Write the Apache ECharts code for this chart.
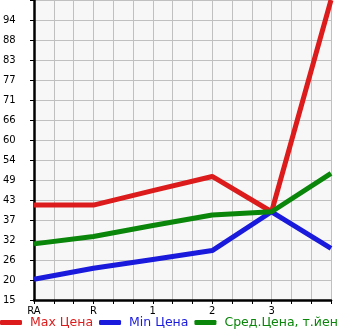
<!DOCTYPE html>
<html><head><meta charset="utf-8">
<script src="https://cdn.jsdelivr.net/npm/echarts@6/dist/echarts.min.js"></script>
<style>html,body{margin:0;padding:0;background:#fff}#c{width:345px;height:335px}</style>
</head><body><div id="c"></div>
<script>
const categories = ['RA', 'R', '1', '2', '3', ''];
const tickLabels = ['15','20','26','32','37','43','49','54','60','66','71','77','83','88','94',''];
const yMin = 15, yMax = 100;
const maxPrice = [41.9, 41.9, 46.0, 50.0, 40.0, 100];
const minPrice = [20.9, 24.0, 26.5, 29.0, 40.0, 29.6];
const avgPrice = [30.9, 33.0, 36.1, 39.1, 40.0, 50.9];
const seriesNames = ['Max Цена', 'Min Цена', 'Сред.Цена, т.йен'];
const colors = ['#dc1c1c', '#1a1adc', '#0a860a'];

const font = 'DejaVu Sans';
const chart = echarts.init(document.getElementById('c'), null, {renderer: 'canvas'});
const toPts = arr => arr.map((v, i) => [i, v]);
chart.setOption({
  animation: false,
  textStyle: {fontFamily: font},
  grid: {left: 31, right: 14, top: 0, bottom: 35, show: true, backgroundColor: '#f7f7f7', borderWidth: 0},
  legend: {
    left: 0, top: 316, width: 600, padding: 0, itemGap: 6, itemWidth: 22, itemHeight: 5, icon: 'roundRect',
    textStyle: {fontFamily: font, fontSize: 12.5, padding: [0, 0, 0, 3]},
    data: seriesNames.map((n, i) => ({name: n, textStyle: {color: colors[i]}}))
  },
  xAxis: {
    type: 'value', min: 0, max: categories.length - 1, interval: 1,
    axisLine: {show: true, lineStyle: {color: '#000', width: 2.5}},
    axisTick: {show: true, length: 4, lineStyle: {color: '#000', width: 1}},
    minorTick: {show: true, splitNumber: 3, length: 4, lineStyle: {color: '#000', width: 1}},
    splitLine: {show: true, lineStyle: {color: '#c0c0c0', width: 1}},
    minorSplitLine: {show: true, lineStyle: {color: '#c0c0c0', width: 1}},
    axisLabel: {fontFamily: font, fontSize: 10, color: '#000', margin: 6,
      formatter: v => categories[Math.round(v)] || ''}
  },
  yAxis: [{
    type: 'value', min: 0, max: tickLabels.length - 1, interval: 1,
    axisLine: {show: true, lineStyle: {color: '#000', width: 2.5}},
    axisTick: {show: true, length: 4, lineStyle: {color: '#000', width: 1}},
    splitLine: {show: true, lineStyle: {color: '#c0c0c0', width: 1}},
    axisLabel: {fontFamily: font, fontSize: 10, color: '#000', align: 'left', margin: 31,
      padding: [0, 0, 6, 0], formatter: v => tickLabels[Math.round(v)] || ''}
  }, {
    type: 'value', min: yMin, max: yMax, show: false, position: 'left',
    splitLine: {show: false}
  }],
  series: [maxPrice, minPrice, avgPrice].map((d, i) => ({
    name: seriesNames[i], type: 'line', yAxisIndex: 1, data: toPts(d),
    symbol: 'none', lineStyle: {color: colors[i], width: 5}, itemStyle: {color: colors[i]},
    clip: true
  }))
});
</script></body></html>
